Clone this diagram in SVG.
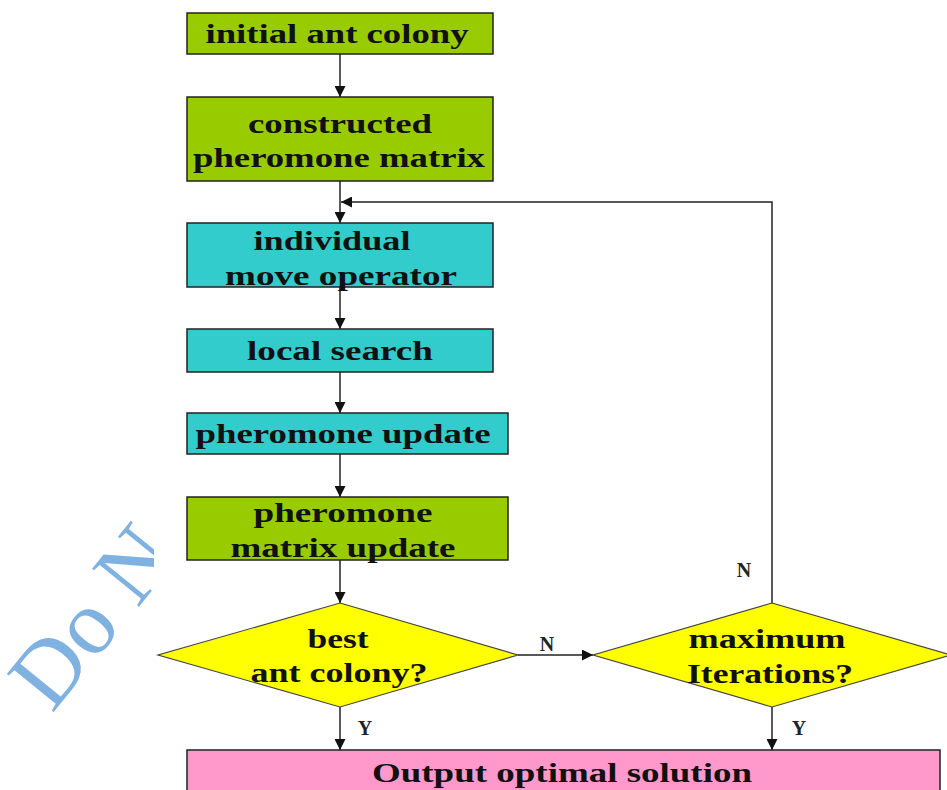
<svg xmlns="http://www.w3.org/2000/svg" width="947" height="790" viewBox="0 0 947 790">
<style>
.box{stroke:#222;stroke-width:1.5}
.g{fill:#99CC00}
.c{fill:#33CCCC}
.y{fill:#FFFF00;stroke:#444;stroke-width:1.2}
.p{fill:#FF99CC;stroke:#222;stroke-width:1.5}
.t{font-family:"Liberation Serif","Times New Roman",serif;font-weight:bold;font-size:28px;fill:#111;text-anchor:middle}
.l{font-family:"Liberation Serif","Times New Roman",serif;font-weight:bold;font-size:20px;fill:#222;text-anchor:middle}
.e{fill:none;stroke:#222;stroke-width:1.5}
.wm{font-family:"Liberation Serif","Times New Roman",serif;font-size:92px;fill:#7FB2E0}
</style>
<defs>
<marker id="ah" viewBox="0 0 10 10" refX="10" refY="5" markerWidth="11" markerHeight="11" orient="auto" markerUnits="userSpaceOnUse">
<path d="M0,0 L10,5 L0,10 Z" fill="#111"/>
</marker>
<clipPath id="wmclip"><rect x="0" y="0" width="154" height="790"/></clipPath>
</defs>
<rect width="947" height="790" fill="#FFFFFF"/>
<g id="watermark" clip-path="url(#wmclip)">
<text class="wm" transform="translate(52,714) rotate(-51)">Do N</text>
</g>
<g id="connectors">
<line class="e" x1="340" y1="54" x2="340" y2="97" marker-end="url(#ah)"/>
<line class="e" x1="340" y1="181" x2="340" y2="223" marker-end="url(#ah)"/>
<line class="e" x1="340" y1="287" x2="340" y2="329" marker-end="url(#ah)"/>
<line class="e" x1="340" y1="372" x2="340" y2="413" marker-end="url(#ah)"/>
<line class="e" x1="340" y1="454" x2="340" y2="497" marker-end="url(#ah)"/>
<line class="e" x1="340" y1="560" x2="340" y2="603" marker-end="url(#ah)"/>
<line class="e" x1="340" y1="707" x2="340" y2="750" marker-end="url(#ah)"/>
<line class="e" x1="518" y1="655" x2="593" y2="655" marker-end="url(#ah)"/>
<polyline class="e" points="772,603 772,202 341,202" marker-end="url(#ah)"/>
<line class="e" x1="772" y1="707" x2="772" y2="750" marker-end="url(#ah)"/>
<text class="l" x="547" y="651">N</text>
<text class="l" x="744" y="577">N</text>
<text class="l" x="365" y="735">Y</text>
<text class="l" x="799" y="735">Y</text>
</g>
<g id="initial">
<rect class="box g" x="187" y="13" width="306" height="41"/>
<text class="t" x="337" y="43" textLength="263" lengthAdjust="spacingAndGlyphs">initial ant colony</text>
</g>
<g id="constructed">
<rect class="box g" x="187" y="97" width="306" height="84"/>
<text class="t" x="340" y="133" textLength="184" lengthAdjust="spacingAndGlyphs">constructed</text>
<text class="t" x="339" y="167" textLength="292" lengthAdjust="spacingAndGlyphs">pheromone matrix</text>
</g>
<g id="individual">
<rect class="box c" x="187" y="223" width="306" height="64"/>
<text class="t" x="332" y="250" textLength="157" lengthAdjust="spacingAndGlyphs">individual</text>
<text class="t" x="341" y="285" textLength="232" lengthAdjust="spacingAndGlyphs">move operator</text>
</g>
<g id="local">
<rect class="box c" x="187" y="329" width="306" height="43"/>
<text class="t" x="340" y="360" textLength="186" lengthAdjust="spacingAndGlyphs">local search</text>
</g>
<g id="pherupdate">
<rect class="box c" x="187" y="413" width="321" height="41"/>
<text class="t" x="343" y="443" textLength="295" lengthAdjust="spacingAndGlyphs">pheromone update</text>
</g>
<g id="matrixupdate">
<rect class="box g" x="187" y="497" width="321" height="63"/>
<text class="t" x="343" y="522" textLength="179" lengthAdjust="spacingAndGlyphs">pheromone</text>
<text class="t" x="343" y="557" textLength="225" lengthAdjust="spacingAndGlyphs">matrix update</text>
</g>
<g id="best">
<polygon class="y" points="340,603 518,655 340,707 158,655"/>
<text class="t" x="338" y="648" textLength="61" lengthAdjust="spacingAndGlyphs">best</text>
<text class="t" x="339" y="682" textLength="177" lengthAdjust="spacingAndGlyphs">ant colony?</text>
</g>
<g id="maxiter">
<polygon class="y" points="772,603 951,655 772,707 593,655"/>
<text class="t" x="767" y="648" textLength="157" lengthAdjust="spacingAndGlyphs">maximum</text>
<text class="t" x="770" y="683" textLength="166" lengthAdjust="spacingAndGlyphs">Iterations?</text>
</g>
<g id="output">
<rect class="p" x="187" y="750" width="753" height="60"/>
<text class="t" x="562" y="782" textLength="380" lengthAdjust="spacingAndGlyphs">Output optimal solution</text>
</g>
</svg>
